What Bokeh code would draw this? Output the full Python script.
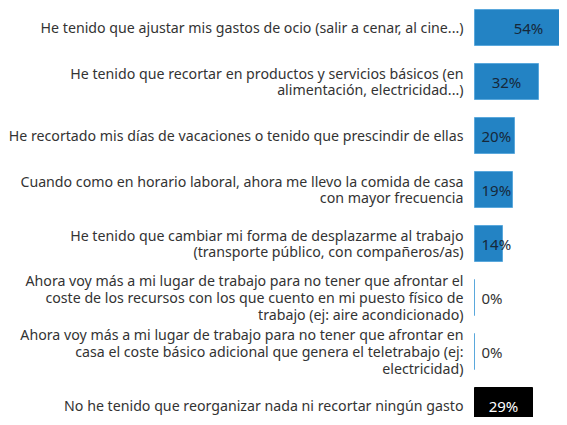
from bokeh.plotting import figure
from bokeh.models import ColumnDataSource, Range1d
from bokeh.embed import file_html
from bokeh.resources import INLINE
from bokeh.core.properties import value

categories = [
    "He tenido que ajustar mis gastos de ocio (salir a cenar, al cine...)",
    "He tenido que recortar en productos y servicios básicos (en\nalimentación, electricidad...)",
    "He recortado mis días de vacaciones o tenido que prescindir de ellas",
    "Cuando como en horario laboral, ahora me llevo la comida de casa\ncon mayor frecuencia",
    "He tenido que cambiar mi forma de desplazarme al trabajo\n(transporte público, con compañeros/as)",
    "Ahora voy más a mi lugar de trabajo para no tener que afrontar el\ncoste de los recursos con los que cuento en mi puesto físico de\ntrabajo (ej: aire acondicionado)",
    "Ahora voy más a mi lugar de trabajo para no tener que afrontar en\ncasa el coste básico adicional que genera el teletrabajo (ej:\nelectricidad)",
    "No he tenido que reorganizar nada ni recortar ningún gasto",
]
values = [54, 32, 20, 19, 14, 0, 0, 29]
value_labels = ["54%", "32%", "20%", "19%", "14%", "0%", "0%", "29%"]

BLUE = "#2383C4"
n = len(categories)
pos = list(range(n))
fill = [BLUE] * (n - 1) + ["#000000"]
border = ["#5AA8DC"] * (n - 1) + ["#000000"]
lab_color = ["#16283A"] * 5 + ["#333333"] * 2 + ["#FFFFFF"]

W, H = 559, 417
px_per_unit = 2.0
bar_left_px = 474
row_px = 54.0
top_center_px = 27

x0 = -bar_left_px / px_per_unit
x1 = (W - bar_left_px) / px_per_unit
y_top = -top_center_px / row_px
y_bot = (H - top_center_px) / row_px

p = figure(width=W, height=H, output_backend="svg", toolbar_location=None,
           x_range=Range1d(x0, x1), y_range=Range1d(y_bot, y_top),
           min_border=0, min_border_left=0, min_border_right=0,
           min_border_top=0, min_border_bottom=0)
p.axis.visible = False
p.grid.visible = False
p.outline_line_color = None
p.background_fill_color = "white"

src = ColumnDataSource(dict(
    y=pos, v=values, cat=categories, lab=value_labels,
    fill=fill, border=border, lc=lab_color,
))
p.hbar(y="y", left=0, right="v", height=36 / row_px, fill_color="fill",
       line_color="border", line_width=1, source=src)

p.text(x=0, y="y", text="cat", source=src, x_offset=-11,
       text_align="right", text_baseline="middle",
       text_font=value("Noto Sans"), text_font_size="14.2px",
       text_color="#333333", text_line_height=0.88)

big = [i for i, v in enumerate(values) if v >= 25]
small = [i for i, v in enumerate(values) if v < 25]
src_big = ColumnDataSource(dict(
    x=[values[i] / 2 for i in big], y=[pos[i] for i in big],
    t=[value_labels[i] for i in big], c=[lab_color[i] for i in big]))
src_small = ColumnDataSource(dict(
    x=[0 for i in small], y=[pos[i] for i in small],
    t=[value_labels[i] for i in small], c=[lab_color[i] for i in small]))
p.text(x="x", y="y", text="t", text_color="c", source=src_big,
       text_align="center", text_baseline="middle",
       text_font=value("Noto Sans"), text_font_size="15px")
p.text(x="x", y="y", text="t", text_color="c", source=src_small,
       x_offset=7, text_align="left", text_baseline="middle",
       text_font=value("Noto Sans"), text_font_size="15px")

open("out.html", "w").write(file_html(p, INLINE))
